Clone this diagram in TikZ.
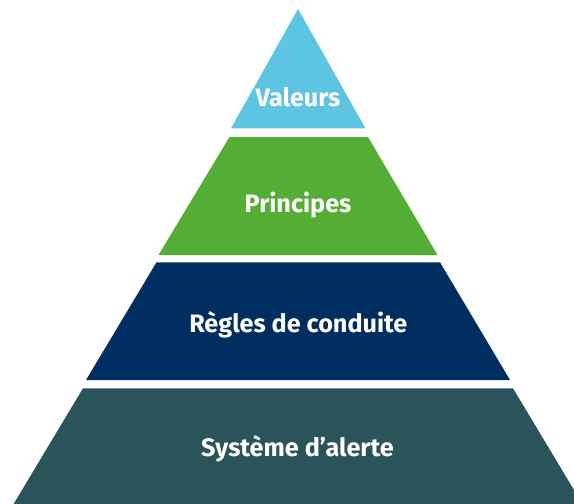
\documentclass[tikz,border=0pt]{standalone}
\usepackage{fontspec}
\setmainfont{Fira Sans}
\definecolor{lvlA}{HTML}{5DC4E2}
\definecolor{lvlB}{HTML}{54AE35}
\definecolor{lvlC}{HTML}{002E60}
\definecolor{lvlD}{HTML}{2B545A}
\tikzset{
  lbl/.style={text=white, font=\bfseries\fontsize{25.2}{28}\selectfont, anchor=base, inner sep=0pt},
}
\begin{document}
\begin{tikzpicture}[x=1pt,y=-1pt]
\useasboundingbox (0,0) rectangle (574,504);
\clip (0,0) rectangle (574,504);
\fill[lvlA] (298,9) -- (365.5,128.3) -- (231,128.3) -- cycle;
\fill[lvlB] (229.5,137) -- (368,137) -- (437.5,255) -- (158.5,255) -- cycle;
\fill[lvlC] (156.5,262.3) -- (440,262.3) -- (510,380) -- (86,380) -- cycle;
\fill[lvlD] (83,388.3) -- (513,388.3) -- (583,505) -- (13,505) -- cycle;
\node[lbl] (valeurs) at (298,106) {Valeurs};
\node[lbl] (principes) at (298,212.3) {Principes};
\node[lbl] (regles) at (298.3,332.3) {Règles de conduite};
\node[lbl] (alerte) at (297.5,456.7) {Système d’alerte};
\end{tikzpicture}
\end{document}
